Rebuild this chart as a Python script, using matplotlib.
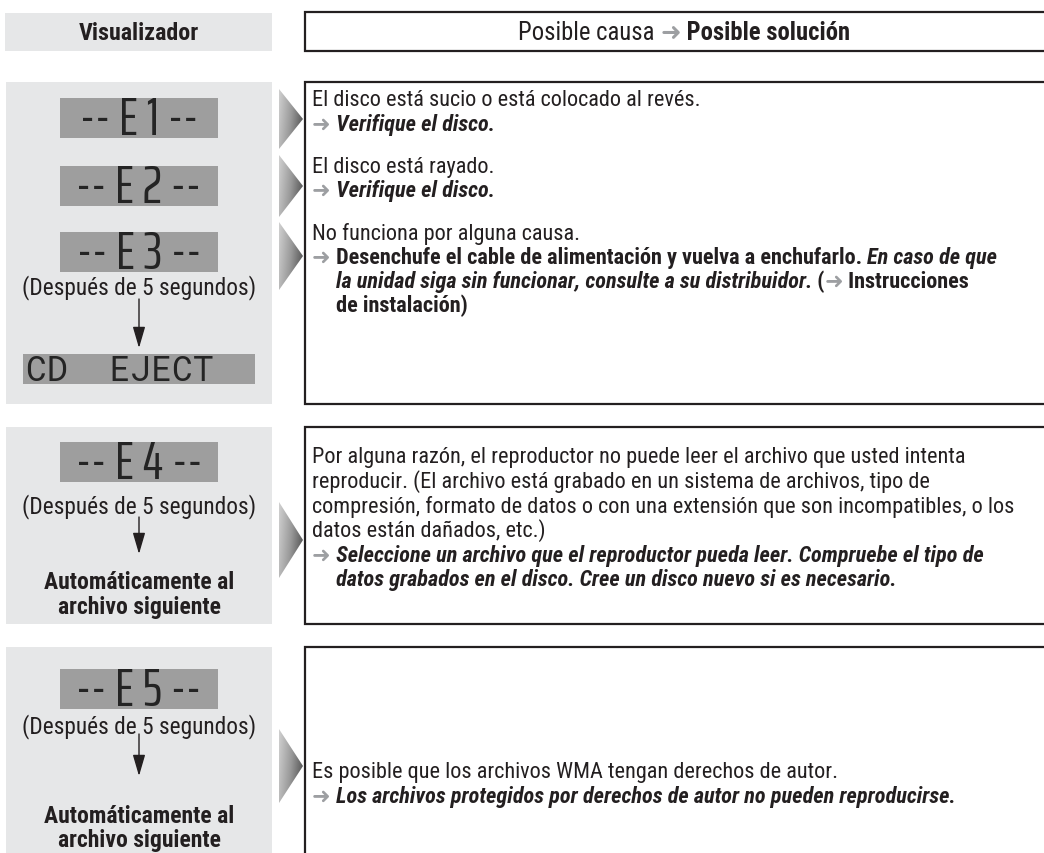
import numpy as np
import matplotlib
matplotlib.use("Agg")
import matplotlib.pyplot as plt
from matplotlib.patches import Rectangle, Polygon
from matplotlib.colors import LinearSegmentedColormap

# ─────────────────────────────────────
# DATA
# ─────────────────────────────────────
header_left  = "Visualizador"
header_cause = "Posible causa"
header_fix   = "Posible solución"

codes      = ["-- E 1 --", "-- E 2 --", "-- E 3 --", "-- E 4 --", "-- E 5 --"]
eject_code = "CD  EJECT"
wait_note  = "(Después de 5 segundos)"
next_file  = ["Automáticamente al", "archivo siguiente"]

ARROW = "➜"
# each line is a list of runs: (text, style)   style: n=normal, b=bold, bi=bold italic, a=arrow
row1_lines = [
    [("El disco está sucio o está colocado al revés.", "n")],
    [(ARROW, "a"), (" Verifique el disco.", "bi")],
    [("El disco está rayado.", "n")],
    [(ARROW, "a"), (" Verifique el disco.", "bi")],
    [("No funciona por alguna causa.", "n")],
    [(ARROW, "a"), (" Desenchufe el cable de alimentación y vuelva a enchufarlo. ", "b"),
     ("En caso de que", "bi")],
    [("la unidad siga sin funcionar, consulte a su distribuidor.", "bi"), (" (", "b"),
     (ARROW, "a"), (" Instrucciones", "b")],
    [("de instalación)", "b")],
]
row2_lines = [
    [("Por alguna razón, el reproductor no puede leer el archivo que usted intenta", "n")],
    [("reproducir. (El archivo está grabado en un sistema de archivos, tipo de", "n")],
    [("compresión, formato de datos o con una extensión que son incompatibles, o los", "n")],
    [("datos están dañados, etc.)", "n")],
    [(ARROW, "a"), (" Seleccione un archivo que el reproductor pueda leer. Compruebe el tipo de", "bi")],
    [("datos grabados en el disco. Cree un disco nuevo si es necesario.", "bi")],
]
row3_lines = [
    [("Es posible que los archivos WMA tengan derechos de autor.", "n")],
    [(ARROW, "a"), (" Los archivos protegidos por derechos de autor no pueden reproducirse.", "bi")],
]

# ─────────────────────────────────────
# STYLE
# ─────────────────────────────────────
FONT   = ["Roboto Condensed", "DejaVu Sans"]
LCDF   = "Saira ExtraCondensed"
INK    = "#231f20"
PANEL  = "#e6e7e8"
LCD_BG = "#9e9e9e"
LCD_FG = "#242424"

fig = plt.figure(figsize=(10.44, 8.54), dpi=100)
ax = fig.add_axes([0, 0, 1, 1])
ax.set_axis_off()
ax.set_xlim(0, 1044)
ax.set_ylim(854, 0)
renderer = fig.canvas.get_renderer()

STYLES = {
    "n":  dict(family=FONT, fontweight="normal", fontstyle="normal", color=INK),
    "b":  dict(family=FONT, fontweight="bold", fontstyle="normal", color=INK),
    "bi": dict(family=FONT, fontweight="bold", fontstyle="italic", color=INK),
    "a":  dict(family="DejaVu Sans", fontweight="bold", fontstyle="normal", color="#9d9fa2"),
}


def text_width(s, size, **kw):
    t = ax.text(0, 0, s, fontsize=size, **kw)
    w = t.get_window_extent(renderer).width
    t.remove()
    return w


def fit_size(s, target, **kw):
    # font size that makes string s about target pixels wide
    return 10 * target / text_width(s, 10, **kw)


def draw_runs(x, y, runs, size, center=False):
    objs = []
    total = 0
    for s, st in runs:
        kw = STYLES[st]
        fs = size * 1.0 if st == "a" else size
        t = ax.text(0, y, s, fontsize=fs, va="center", ha="left", **kw)
        w = t.get_window_extent(renderer).width
        objs.append((t, w))
        total += w
    if center:
        x = x - total / 2
    for t, w in objs:
        t.set_x(x)
        x += w
    return total


# sizes (line widths in pixels)
BODY = fit_size(row2_lines[0][0][0], 650, **STYLES["n"])
SIDE = fit_size(wait_note, 233, **STYLES["n"])
SIDEB = fit_size(next_file[0], 190, **STYLES["b"])
HEADB = fit_size(header_left, 120, **STYLES["b"])
LCDS = fit_size(codes[0], 118, family=LCDF, fontweight="normal")


def panel(y0, y1, x0=6, x1=272):
    ax.add_patch(Rectangle((x0, y0), x1 - x0, y1 - y0, fc=PANEL, ec="none", zorder=0))


def framed(y0, y1, x0=305, x1=1050):
    ax.add_patch(Rectangle((x0, y0), x1 - x0, y1 - y0, fc="white", ec=INK, lw=1.6, zorder=1))


def lcd(yc, text, x0=60, x1=218, h=40):
    ax.add_patch(Rectangle((x0, yc - h / 2), x1 - x0, h, fc=LCD_BG, ec="none", zorder=1))
    ax.text((x0 + x1) / 2, yc + 1, text, fontsize=LCDS, family=LCDF, fontweight="normal",
            color=LCD_FG, ha="center", va="center", zorder=2)


def lcd_wide(yc, text, x0=23, x1=255, h=30):
    ax.add_patch(Rectangle((x0, yc - h / 2), x1 - x0, h, fc=LCD_BG, ec="none", zorder=1))
    ax.text(x0 + 3, yc + 1, text, fontsize=25, family="Roboto Mono",
            color=LCD_FG, ha="left", va="center", zorder=2)


grad_cmap = LinearSegmentedColormap.from_list("tri", ["#d0d0d0", "#999999", "#4a4a4a"])


def side_arrow(yc, h, x0=279, x1=303):
    tri = Polygon([[x0, yc - h / 2], [x0, yc + h / 2], [x1, yc]], closed=True,
                  fc="none", ec="none")
    ax.add_patch(tri)
    gx = np.linspace(0, 1, 80)
    gy = np.linspace(0, 1, 80)
    gxx, gyy = np.meshgrid(gx, gy)
    im = ax.imshow(0.8 * gxx + 0.2 * gyy, extent=[x0, x1, yc + h / 2, yc - h / 2],
                   cmap=grad_cmap, aspect="auto", zorder=2, interpolation="bilinear")
    im.set_clip_path(tri)


def down_arrow(y0, y1, x=139):
    ax.annotate("", xy=(x, y1), xytext=(x, y0),
                arrowprops=dict(arrowstyle="-|>,head_length=1.3,head_width=0.38",
                                lw=1.0, color=INK, mutation_scale=10, shrinkA=0, shrinkB=0))


def side_text(y, s, bold=False):
    st = STYLES["b"] if bold else STYLES["n"]
    ax.text(139, y, s, fontsize=SIDEB if bold else SIDE, va="center", ha="center", **st)


# ─────────────────────────────────────
# HEADER
# ─────────────────────────────────────
panel(14, 52, x0=5)
framed(13, 52)
ax.text(139, 33, header_left, fontsize=HEADB, va="center", ha="center", **STYLES["b"])
draw_runs(684, 33, [(header_cause + " ", "n"), (ARROW, "a"), (" " + header_fix, "b")],
          size=HEADB * 1.03, center=True)

# ─────────────────────────────────────
# ROW 1  (E1 – E3)
# ─────────────────────────────────────
panel(83, 405)
framed(83, 405)
for yc, code in zip([119, 187, 253], codes[:3]):
    lcd(yc, code)
side_text(288, wait_note)
down_arrow(300, 349)
lcd_wide(370, eject_code)

for yc, h in [(120, 60), (187, 62), (257, 68)]:
    side_arrow(yc, h)

# continuation lines line up with the text after the arrow
indent = 312 + text_width(ARROW, BODY, **STYLES["a"]) + text_width(" ", BODY, **STYLES["b"])

row1_y = [100, 125, 167, 191, 234, 258, 282, 306]
for i, (y, runs) in enumerate(zip(row1_y, row1_lines)):
    x = indent if i in (6, 7) else 312
    draw_runs(x, y, runs, BODY)

# ─────────────────────────────────────
# ROW 2  (E4)
# ─────────────────────────────────────
panel(428, 625)
framed(428, 625)
lcd(463, codes[3])
side_text(507, wait_note)
down_arrow(518, 555)
side_text(583, next_file[0], bold=True)
side_text(608, next_file[1], bold=True)
side_arrow(541, 76)

row2_y = [458, 482, 507, 531, 556, 580]
for i, (y, runs) in enumerate(zip(row2_y, row2_lines)):
    x = indent if i == 5 else 312
    draw_runs(x, y, runs, BODY)

# ─────────────────────────────────────
# ROW 3  (E5)
# ─────────────────────────────────────
panel(648, 870)
framed(648, 870)
lcd(690, codes[4])
side_text(727, wait_note)
down_arrow(735, 777)
side_text(817, next_file[0], bold=True)
side_text(841, next_file[1], bold=True)
side_arrow(767, 74)

for y, runs in zip([773, 797], row3_lines):
    draw_runs(312, y, runs, BODY)

ax.set_xlim(0, 1044)
ax.set_ylim(854, 0)
fig.savefig("out.png", dpi=100)
